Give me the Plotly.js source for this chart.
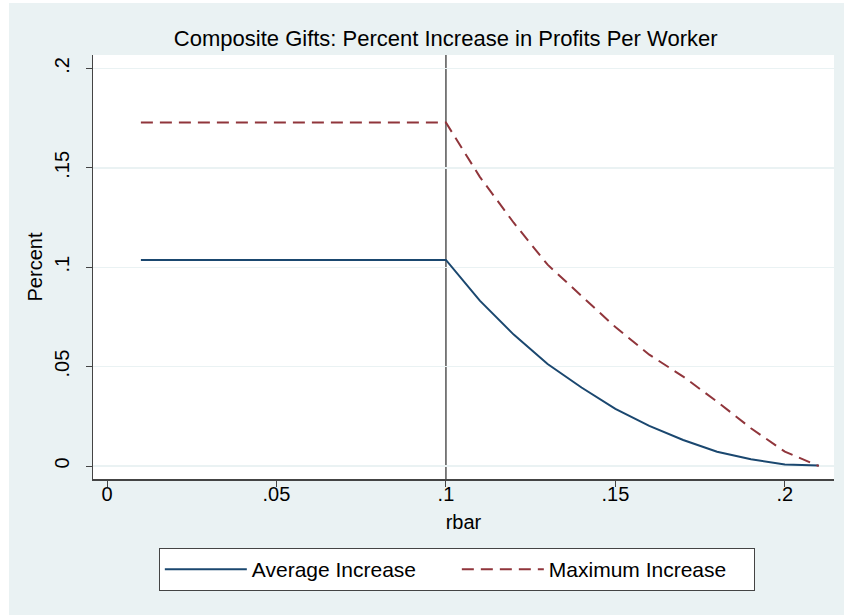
<!DOCTYPE html>
<html>
<head>
<meta charset="utf-8">
<script src="https://cdn.plot.ly/plotly-3.0.1.min.js"></script>
<style>
  html, body { margin: 0; padding: 0; background: #ffffff; width: 844px; height: 615px; overflow: hidden; }
  #chart { position: absolute; left: 9px; top: 3px; width: 835px; height: 612px; }
</style>
</head>
<body>
<div id="chart"></div>
<script>
// Data
const rbar = [0.01, 0.02, 0.03, 0.04, 0.05, 0.06, 0.07, 0.08, 0.09, 0.10,
              0.11, 0.12, 0.13, 0.14, 0.15, 0.16, 0.17, 0.18, 0.19, 0.20, 0.21];
const averageIncrease = [0.1037, 0.1037, 0.1037, 0.1037, 0.1037, 0.1037, 0.1037, 0.1037, 0.1037, 0.1037,
                         0.0832, 0.0661, 0.0513, 0.0395, 0.0287, 0.0202, 0.0131, 0.0072, 0.0034, 0.0008, 0.0002];
const maximumIncrease = [0.1728, 0.1728, 0.1728, 0.1728, 0.1728, 0.1728, 0.1728, 0.1728, 0.1728, 0.1728,
                         0.1455, 0.1224, 0.1013, 0.0854, 0.0699, 0.0560, 0.0450, 0.0324, 0.0190, 0.0072, 0.0000];
const seriesNames = ["Average Increase", "Maximum Increase"];
const xTickVals = [0, 0.05, 0.1, 0.15, 0.2];
const xTickText = ["0", ".05", ".1", ".15", ".2"];
const yTickVals = [0, 0.05, 0.1, 0.15, 0.2];
const yTickText = ["0", ".05", ".1", ".15", ".2"];
const xLine = 0.1;

const FONT = "Liberation Sans, Arial, sans-serif";
const BG = "#eaf2f3";

const traces = [
  {
    x: rbar, y: averageIncrease, type: "scatter", mode: "lines",
    name: seriesNames[0],
    line: { color: "#1a476f", width: 2 }
  },
  {
    x: rbar, y: maximumIncrease, type: "scatter", mode: "lines",
    name: seriesNames[1],
    line: { color: "#90353b", width: 2, dash: "12px,7px" }
  }
];

const layout = {
  width: 835, height: 612,
  paper_bgcolor: BG,
  plot_bgcolor: "#ffffff",
  margin: { l: 84, r: 10, t: 52, b: 136 },
  font: { family: FONT, size: 20, color: "#000000" },
  title: {
    text: "Composite Gifts: Percent Increase in Profits Per Worker",
    font: { family: FONT, size: 22, color: "#000000" },
    x: 0.476, xanchor: "center", xref: "paper",
    y: 1 - 35 / 612, yanchor: "middle", yref: "container"
  },
  xaxis: {
    range: [-0.00413, 0.2145],
    tickvals: xTickVals, ticktext: xTickText,
    showgrid: false, zeroline: false,
    showline: true, linecolor: "#444444", linewidth: 1.5,
    ticks: "outside", ticklen: 6, tickcolor: "#444444", tickwidth: 1,
    ticklabelstandoff: -10,
    tickfont: { size: 20 },
    title: { text: "rbar", font: { size: 20 }, standoff: 11 }
  },
  yaxis: {
    range: [-0.00654, 0.2068],
    tickvals: yTickVals, ticktext: yTickText,
    tickangle: -90,
    showgrid: true, gridcolor: BG, gridwidth: 1.5,
    zeroline: false,
    showline: true, linecolor: "#444444", linewidth: 1.5,
    ticks: "outside", ticklen: 6, tickcolor: "#444444", tickwidth: 1,
    ticklabelstandoff: 9,
    tickfont: { size: 20 },
    title: { text: "Percent", font: { size: 20 }, standoff: 2 }
  },
  shapes: [
    {
      type: "line", xref: "x", yref: "paper",
      x0: xLine, x1: xLine, y0: 0, y1: 1,
      line: { color: "#555555", width: 1.5 },
      layer: "below"
    }
  ],
  showlegend: true,
  legend: {
    orientation: "h",
    x: 0.491, xanchor: "center",
    y: -0.1627, yanchor: "top",
    bgcolor: "#ffffff",
    bordercolor: "#444444", borderwidth: 1,
    font: { family: FONT, size: 21, color: "#000000" },
    itemwidth: 82,
    entrywidth: 200,
    traceorder: "normal"
  }
};

Plotly.newPlot("chart", traces, layout, { displayModeBar: false, staticPlot: true });
</script>
</body>
</html>
